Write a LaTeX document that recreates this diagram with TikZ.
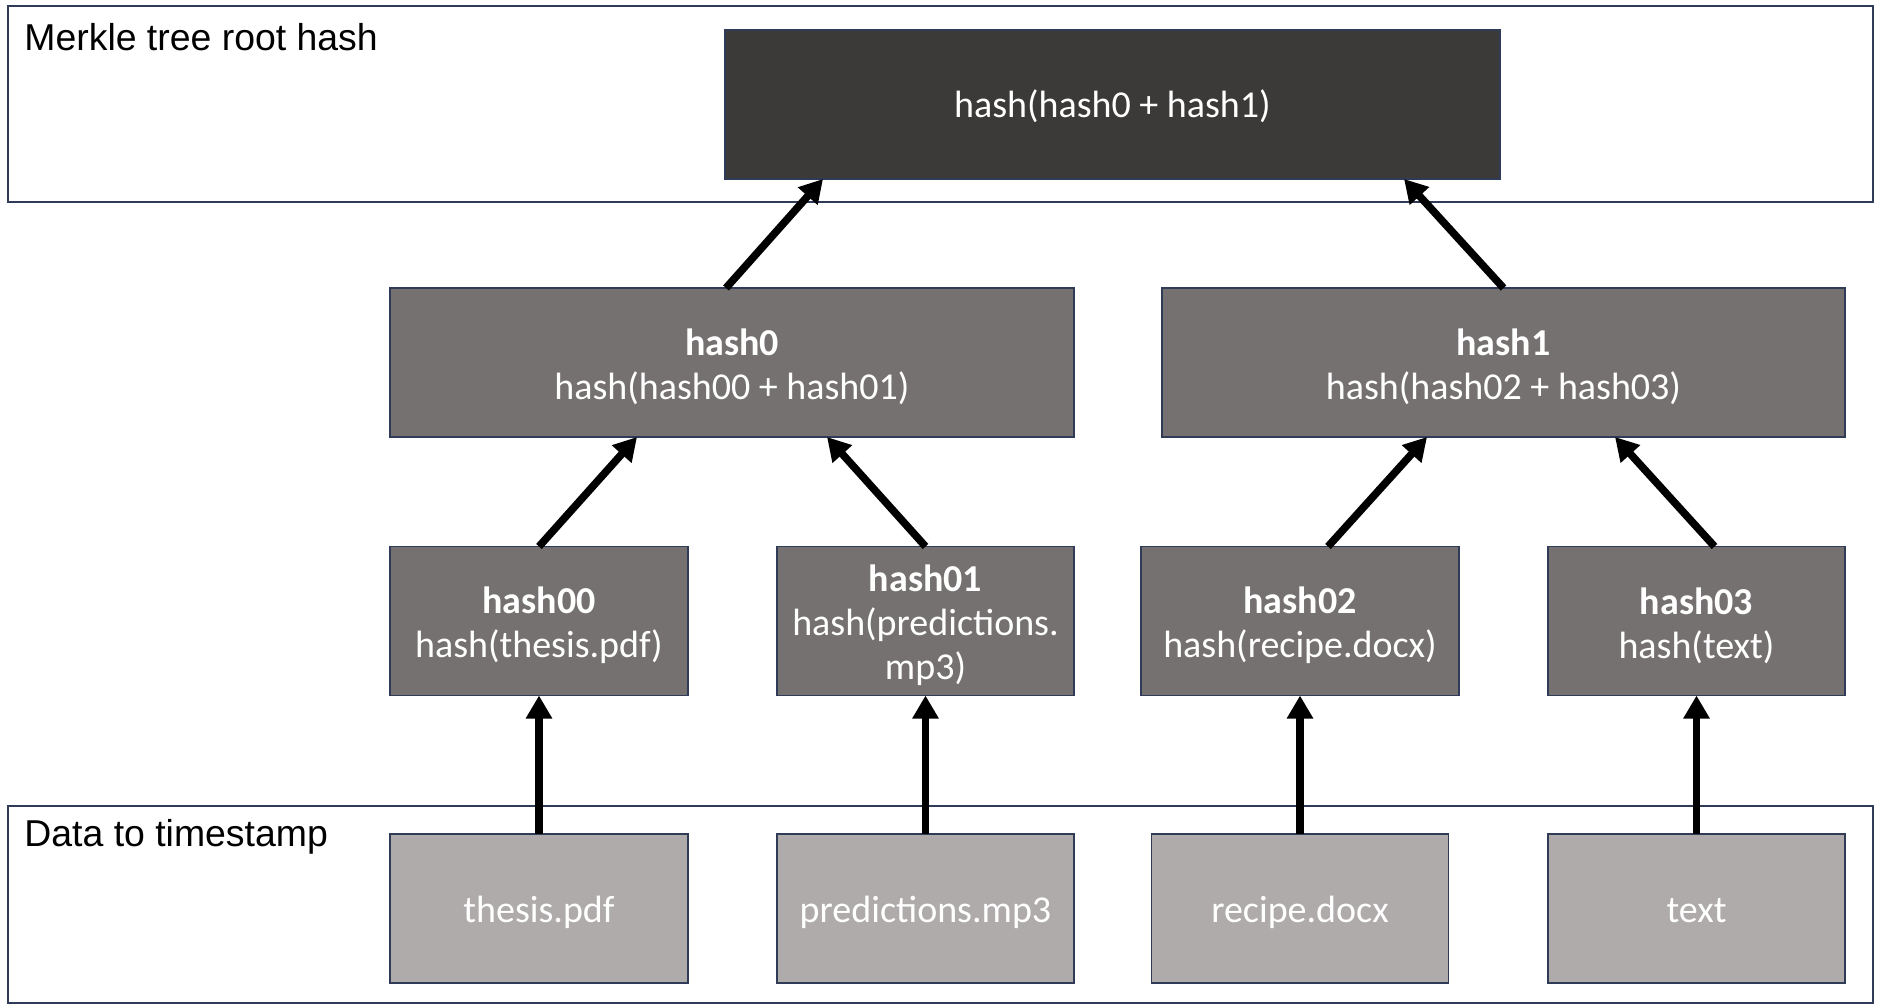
\documentclass[tikz,border=0pt]{standalone}
\usepackage{fontspec}
\setmainfont{Carlito}
\newfontfamily\arialfont{Liberation Sans}
\usetikzlibrary{arrows.meta,calc}
\definecolor{rootfill}{HTML}{3B3A39}
\definecolor{midfill}{HTML}{767171}
\definecolor{datafill}{HTML}{AFABAB}
\definecolor{edgecol}{HTML}{2F3B57}
\begin{document}
\begin{tikzpicture}[x=0.5pt,y=-0.5pt,
  box/.style={draw=edgecol, line width=0.8pt, inner sep=0pt, outer sep=0pt, text=white, align=center, font=\fontsize{19}{22}\selectfont},
  oneline/.style={box, execute at begin node={\rule{0pt}{18.5pt}}, execute at end node={\rule[-5pt]{0pt}{0pt}}},
  midtext/.style={text=white, align=center, inner sep=0pt, font=\fontsize{19}{22}\selectfont, yshift=-2.2pt},
  rootbox/.style={oneline, fill=rootfill, minimum width=0.5pt*775, minimum height=0.5pt*149},
  midbox/.style={box, fill=midfill, minimum height=0.5pt*149},
  databox/.style={oneline, fill=datafill, minimum height=0.5pt*149},
  framebox/.style={draw=edgecol, line width=1pt, inner sep=0pt, outer sep=0pt, minimum width=0.5pt*1865},
  conn/.style={line width=3.8pt, -{Triangle[length=11.5pt,width=12.5pt]}},
  titletext/.style={anchor=base west, inner sep=0pt, font=\arialfont\fontsize{18.7}{21}\selectfont}]
\useasboundingbox (0,0) rectangle (1877,1006);

% frames
\node[framebox, minimum height=0.5pt*196] (topframe) at (940.5,104) {};
\node[framebox, minimum height=0.5pt*197] (botframe) at (940.5,904.5) {};
\node[titletext] (toptitle) at (24,51) {Merkle tree root hash};
\node[titletext] (bottitle) at (24,846) {Data to timestamp};

% root
\node[rootbox] (root) at (1112.5,104.5) {hash(hash0 + hash1)};

% level 1
\node[midbox, minimum width=0.5pt*684, label={[midtext]center:\textbf{hash0}\\hash(hash00 + hash01)}] (hash0) at (732,362.5) {};
\node[midbox, minimum width=0.5pt*683, label={[midtext]center:\textbf{hash1}\\hash(hash02 + hash03)}] (hash1) at (1503.5,362.5) {};

% level 2
\node[midbox, minimum width=0.5pt*298, label={[midtext]center:\textbf{hash00}\\hash(thesis.pdf)}] (hash00) at (539,621) {};
\node[midbox, minimum width=0.5pt*297, label={[midtext]center:\textbf{hash01}\\hash(predictions.\\mp3)}] (hash01) at (925.5,621) {};
\node[midbox, minimum width=0.5pt*318, label={[midtext]center:\textbf{hash02}\\hash(recipe.docx)}] (hash02) at (1300,621) {};
\node[midbox, minimum width=0.5pt*297, label={[midtext]center:\textbf{hash03}\\hash(text)}] (hash03) at (1696.5,621) {};

% data
\node[databox, minimum width=0.5pt*298] (thesis) at (539,908.5) {thesis.pdf};
\node[databox, minimum width=0.5pt*297] (pred) at (925.5,908.5) {predictions.mp3};
\node[databox, minimum width=0.5pt*297] (recipe) at (1300,908.5) {recipe.docx};
\node[databox, minimum width=0.5pt*297] (textfile) at (1696.5,908.5) {text};

% connectors
\draw[conn] (thesis.north) -- (hash00.south);
\draw[conn] (pred.north) -- (hash01.south);
\draw[conn] (recipe.north) -- (hash02.south);
\draw[conn] (textfile.north) -- (hash03.south);
\draw[conn] (hash00.north) -- ($(hash0.south west)+(247,0)$);
\draw[conn] (hash01.north) -- ($(hash0.south west)+(437,0)$);
\draw[conn] ($(hash02.north)+(28,0)$) -- ($(hash1.south west)+(265,0)$);
\draw[conn] ($(hash03.north)+(18,0)$) -- ($(hash1.south west)+(453,0)$);
\draw[conn] ($(hash0.north)+(-6,0)$) -- ($(root.south west)+(98,0)$);
\draw[conn] (hash1.north) -- ($(root.south west)+(679,0)$);
\end{tikzpicture}
\end{document}
